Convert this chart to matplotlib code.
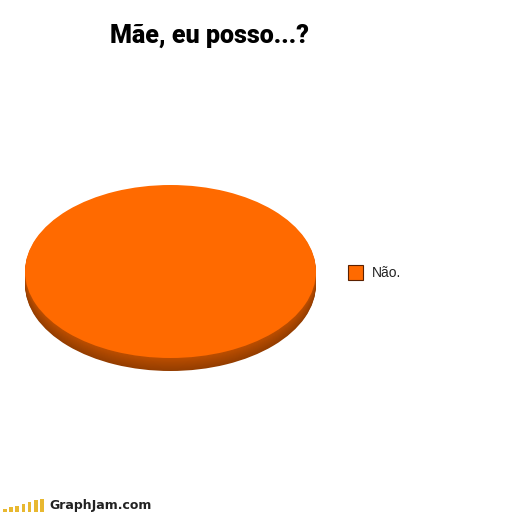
import matplotlib
matplotlib.use("Agg")
import matplotlib.pyplot as plt
from matplotlib.patches import Rectangle

# chart data
title = "Mãe, eu posso...?"
labels = ["Não."]
values = [100]

top_color = "#ff6a00"

W, H = 520, 514
fig = plt.figure(figsize=(W / 100, H / 100), dpi=100)
fig.patch.set_facecolor("white")

# pie axes: x [-1,1] -> 25..316 px, y [-1,1] -> 185..358 px
cx, cy = 170.5, 271.5
rx, ry = 145.5, 86.5
xl, yl = (-1.1, 1.1), (-1.3, 1.15)
left = cx + xl[0] * rx
width = (xl[1] - xl[0]) * rx
top = cy - yl[1] * ry
height = (yl[1] - yl[0]) * ry
ax = fig.add_axes([left / W, 1 - (top + height) / H, width / W, height / H])

# side of the disc: stack of darker pies pushed downward
depth = 13 / ry
steps = 14
base = matplotlib.colors.to_rgb(top_color)
for i in range(steps, 0, -1):
    d = depth * i / steps
    shade = 0.74 - 0.16 * i / steps
    col = tuple(c * shade for c in base)
    ax.pie(values, colors=[col], center=(0, -d), radius=1,
           startangle=90, wedgeprops=dict(linewidth=0))
wedges, _ = ax.pie(values, colors=[top_color], center=(0, 0), radius=1,
                   startangle=90, wedgeprops=dict(linewidth=0))
ax.set_aspect("auto")
ax.set_xlim(*xl)
ax.set_ylim(*yl)
ax.axis("off")

# legend
lx, ly = 348, 265
fig.patches.append(Rectangle((lx / W, 1 - (ly + 15) / H), 15 / W, 15 / H,
                             transform=fig.transFigure, facecolor=top_color,
                             edgecolor="#5a2000", linewidth=0.8))
fig.text(372 / W, 1 - 273 / H, labels[0], fontsize=10, va="center",
         ha="left", color="#222222", family=["Liberation Sans", "DejaVu Sans"])

# title
fig.text(210 / W, 1 - 36 / H, title, fontsize=18, fontweight="black",
         ha="center", va="center",
         family=["Roboto", "DejaVu Sans"], color="black")

# watermark
bar_h = [3, 5, 6, 8, 10, 12, 13]
for i, h in enumerate(bar_h):
    x = 3 + i * 6.2
    fig.patches.append(Rectangle((x / W, 1 - 512 / H), 3.6 / W, h / H,
                                 transform=fig.transFigure,
                                 facecolor="#e8b830", edgecolor="none"))
fig.text(49 / W, 1 - 506 / H, "GraphJam.com", fontsize=9, fontweight="bold",
         ha="left", va="center", color="#222222")

fig.savefig("out.png", dpi=100)
